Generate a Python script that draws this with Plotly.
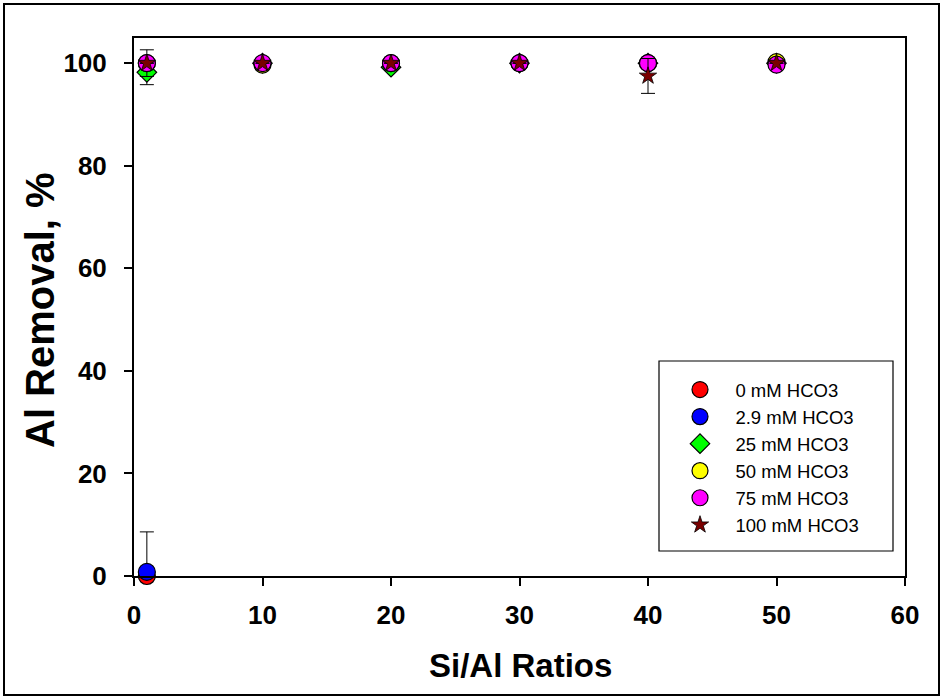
import plotly.graph_objects as go

# Si/Al ratios tested
si_al = [1, 10, 20, 30, 40, 50]

# Al removal (%) for each bicarbonate level
x_0mm = [1]
removal_0mm = [0.0]

x_2p9mm = [1]
removal_2p9mm = [0.8]
err_2p9mm_up = [7.8]
err_2p9mm_down = [0.8]

removal_25mm = [98.2, 100.0, 99.2, 100.0, 100.0, 100.0]
err_25mm = [2.4, 0, 0, 0, 0, 0]

removal_50mm = [100.0, 99.7, 100.0, 100.0, 100.0, 100.2]

removal_75mm = [100.0, 100.0, 100.0, 100.0, 100.0, 99.7]
err_75mm = [2.6, 0, 0, 0, 0, 0]

removal_100mm = [100.0, 100.0, 100.0, 100.0, 97.5, 100.0]
err_100mm = [0, 0, 0, 0, 3.4, 0]

series_names = ["0 mM HCO3", "2.9 mM HCO3", "25 mM HCO3",
                "50 mM HCO3", "75 mM HCO3", "100 mM HCO3"]

x_ticks = [0, 10, 20, 30, 40, 50, 60]
y_ticks = [0, 20, 40, 60, 80, 100]

FONT = "Liberation Sans, Arial, sans-serif"
EDGE = dict(color="black", width=1.2)
PAD = "\u00a0\u00a0\u00a0"  # extra gap between legend symbol and label


def errbar(arr, arrminus=None):
    d = dict(type="data", array=arr, color="black", thickness=1, width=7, visible=True)
    if arrminus is not None:
        d.update(symmetric=False, arrayminus=arrminus)
    return d


fig = go.Figure()

fig.add_trace(go.Scatter(
    x=x_0mm, y=removal_0mm, mode="markers", name=PAD + series_names[0],
    marker=dict(symbol="circle", size=17, color="#FF0000", line=EDGE),
    cliponaxis=False))

fig.add_trace(go.Scatter(
    x=x_2p9mm, y=removal_2p9mm, mode="markers", name=PAD + series_names[1],
    marker=dict(symbol="circle", size=17, color="#0000FF", line=EDGE),
    error_y=errbar(err_2p9mm_up, err_2p9mm_down),
    cliponaxis=False))

fig.add_trace(go.Scatter(
    x=si_al, y=removal_25mm, mode="markers", name=PAD + series_names[2],
    marker=dict(symbol="diamond", size=15, color="#00FF00", line=EDGE),
    error_y=errbar(err_25mm),
    cliponaxis=False))

fig.add_trace(go.Scatter(
    x=si_al, y=removal_50mm, mode="markers", name=PAD + series_names[3],
    marker=dict(symbol="circle", size=17, color="#FFFF00", line=EDGE),
    cliponaxis=False))

fig.add_trace(go.Scatter(
    x=si_al, y=removal_75mm, mode="markers", name=PAD + series_names[4],
    marker=dict(symbol="circle", size=17, color="#FF00FF", line=EDGE),
    error_y=errbar(err_75mm),
    cliponaxis=False))

fig.add_trace(go.Scatter(
    x=si_al, y=removal_100mm, mode="markers", name=PAD + series_names[5],
    marker=dict(symbol="star", size=13, color="#7A0000", line=dict(color="black", width=0.8)),
    error_y=errbar(err_100mm),
    cliponaxis=False))

axis_common = dict(
    showgrid=False, zeroline=False, showline=True, linecolor="black", linewidth=2,
    mirror=True, ticks="outside", ticklen=8, tickwidth=1.5, tickcolor="black",
    tickfont=dict(family=FONT, size=26, color="black", weight="bold"),
)

fig.update_xaxes(range=[0, 60], tickvals=x_ticks, ticktext=[str(v) for v in x_ticks],
                 ticklabelstandoff=7, **axis_common)
fig.update_yaxes(range=[0, 104.9], tickvals=y_ticks, ticktext=[str(v) for v in y_ticks],
                 ticklabelstandoff=12, **axis_common)

fig.update_layout(
    width=943, height=698,
    margin=dict(l=134, r=38, t=38, b=122),
    paper_bgcolor="white", plot_bgcolor="white",
    font=dict(family=FONT, color="black"),
    showlegend=True,
    legend=dict(
        x=(680 - 134) / 771, y=(576 - 371) / 538, xanchor="left", yanchor="top",
        bgcolor="rgba(0,0,0,0)", borderwidth=0,
        font=dict(family=FONT, size=18.5, color="black"),
        tracegroupgap=0, itemsizing="trace",
    ),
    annotations=[
        dict(text="<b>Al Removal, %</b>", xref="paper", yref="paper",
             x=(40 - 134) / 771, y=(576 - 310) / 538, textangle=-90,
             showarrow=False, font=dict(family=FONT, size=40, color="black"),
             xanchor="center", yanchor="middle"),
        dict(text="<b>Si/Al Ratios</b>", xref="paper", yref="paper",
             x=(520 - 134) / 771, y=(576 - 665) / 538,
             showarrow=False, font=dict(family=FONT, size=33, color="black"),
             xanchor="center", yanchor="middle"),
    ],
    shapes=[
        # legend frame
        dict(type="rect", xref="paper", yref="paper",
             x0=(659 - 134) / 771, x1=(893 - 134) / 771,
             y0=(576 - 551) / 538, y1=(576 - 361) / 538,
             line=dict(color="black", width=1.2), fillcolor="rgba(0,0,0,0)"),
        # outer figure frame
        dict(type="rect", xref="paper", yref="paper",
             x0=(4 - 134) / 771, x1=(939 - 134) / 771,
             y0=(576 - 695) / 538, y1=(576 - 4) / 538,
             line=dict(color="black", width=2), fillcolor="rgba(0,0,0,0)"),
    ],
)

fig.write_html("out.html")
